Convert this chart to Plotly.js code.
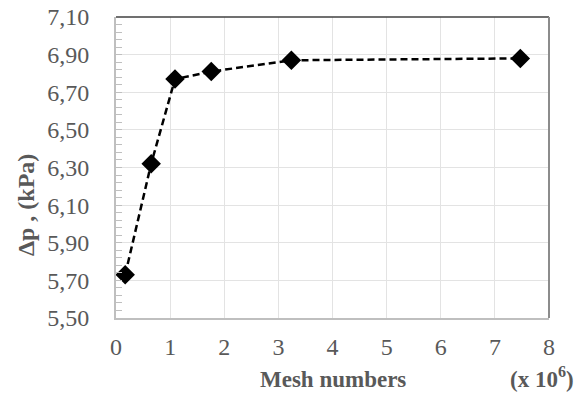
<!DOCTYPE html>
<html>
<head>
<meta charset="utf-8">
<script src="https://cdn.plot.ly/plotly-3.0.1.min.js"></script>
<style>html,body{margin:0;padding:0;background:#fff;}#chart{width:576px;height:394px;}</style>
</head>
<body>
<div id="chart"></div>
<script>
// Data (mesh numbers in millions, pressure drop in kPa)
var meshNumbers = [0.17, 0.65, 1.09, 1.76, 3.24, 7.47];
var pressureDrop = [5.73, 6.32, 6.77, 6.81, 6.87, 6.88];
var xTickValues = [0, 1, 2, 3, 4, 5, 6, 7, 8];
var yTickValues = [5.5, 5.7, 5.9, 6.1, 6.3, 6.5, 6.7, 6.9, 7.1];
var yTickText = ['5,50', '5,70', '5,90', '6,10', '6,30', '6,50', '6,70', '6,90', '7,10'];

var font = 'Liberation Serif';
var grey = '#595959';

var trace = {
  x: meshNumbers,
  y: pressureDrop,
  type: 'scatter',
  mode: 'lines+markers',
  line: {color: '#000000', width: 2.5, dash: '7px,4px'},
  marker: {symbol: 'diamond', size: 15, color: '#000000'},
  hoverinfo: 'skip',
  cliponaxis: false
};

var layout = {
  width: 576, height: 394,
  margin: {l: 116, r: 27, t: 17, b: 76},
  paper_bgcolor: '#ffffff', plot_bgcolor: '#ffffff',
  showlegend: false,
  font: {family: font, size: 24, color: grey},
  xaxis: {
    range: [0, 8], tickvals: xTickValues, ticktext: xTickValues.map(String),
    showgrid: true, gridcolor: '#e3e3e3', gridwidth: 1,
    zeroline: false, showline: true, linecolor: '#bfbfbf', linewidth: 2,
    ticks: '', ticklabelstandoff: 6,
    tickfont: {family: font, size: 24, color: grey}
  },
  yaxis: {
    range: [5.5, 7.1], tickvals: yTickValues, ticktext: yTickText,
    showgrid: true, gridcolor: '#e3e3e3', gridwidth: 1,
    zeroline: false, showline: true, linecolor: '#bfbfbf', linewidth: 2,
    ticks: 'inside', ticklen: 6, tickcolor: '#bfbfbf', tickwidth: 1,
    minor: {dtick: 0.04, tick0: 5.5, ticks: 'inside', ticklen: 6, tickcolor: '#bfbfbf', tickwidth: 1, showgrid: false},
    ticklabelstandoff: 20,
    tickfont: {family: font, size: 24, color: grey}
  },
  shapes: [
    {type: 'line', xref: 'paper', yref: 'paper', x0: 0, x1: 1, y0: 1, y1: 1, line: {color: '#404040', width: 1.5}},
    {type: 'line', xref: 'paper', yref: 'paper', x0: 1, x1: 1, y0: 0, y1: 1, line: {color: '#8c8c8c', width: 2}}
  ],
  annotations: [
    {text: '<b>Δp , (kPa)</b>', xref: 'paper', yref: 'paper', x: -0.208, y: 0.375,
     xanchor: 'center', yanchor: 'middle', textangle: -90, showarrow: false,
     font: {family: font, size: 24, color: grey}},
    {text: '<b>Mesh numbers</b>', xref: 'paper', yref: 'paper', x: 0.501, y: -0.203,
     xanchor: 'center', yanchor: 'middle', showarrow: false,
     font: {family: font, size: 23, color: grey}},
    {text: '<b>(x 10<sup>6</sup>)</b>', xref: 'paper', yref: 'paper', x: 0.984, y: -0.198,
     xanchor: 'center', yanchor: 'middle', showarrow: false,
     font: {family: font, size: 23, color: grey}}
  ]
};

Plotly.newPlot('chart', [trace], layout, {displayModeBar: false, staticPlot: true});
</script>
</body>
</html>
